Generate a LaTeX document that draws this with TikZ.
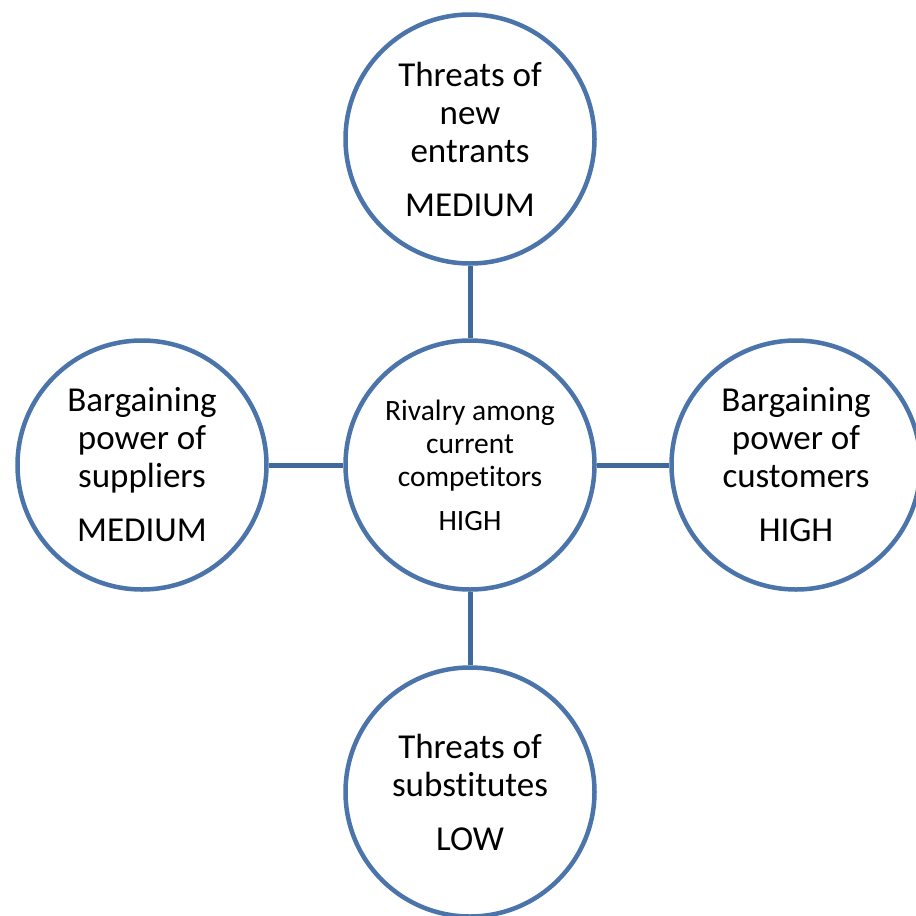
\documentclass[tikz,border=0pt]{standalone}
\usepackage{fontspec}
\setmainfont{Carlito}[Ligatures={NoCommon}]
\definecolor{ringblue}{RGB}{74,116,170}
\definecolor{linkblue}{RGB}{64,106,158}
\tikzset{
  force/.style={circle, draw=ringblue, line width=4.5pt, fill=white,
    minimum size=249pt, inner sep=0pt, align=center,
    font={\fontsize{35}{38}\selectfont}},
  hub/.style={force, font={\fontsize{29.5}{33}\selectfont}},
  link/.style={draw=linkblue, line width=5pt}
}
\begin{document}
\begin{tikzpicture}[x=1pt,y=-1pt]
\useasboundingbox (0,0) rectangle (916,916);
\node[hub] (center) at (470,465) {Rivalry among\\current\\competitors\\[11pt]HIGH};
\node[force] (top) at (470,139) {Threats of\\new\\entrants\\[16pt]MEDIUM};
\node[force] (left) at (142,465) {Bargaining\\power of\\suppliers\\[16pt]MEDIUM};
\node[force] (right) at (796,465) {Bargaining\\power of\\customers\\[16pt]HIGH};
\node[force] (bottom) at (470,792) {Threats of\\substitutes\\[16pt]LOW};
\draw[link] (top.south) -- (center.north);
\draw[link] (center.south) -- (bottom.north);
\draw[link] (left.east) -- (center.west);
\draw[link] (center.east) -- (right.west);
\end{tikzpicture}
\end{document}
